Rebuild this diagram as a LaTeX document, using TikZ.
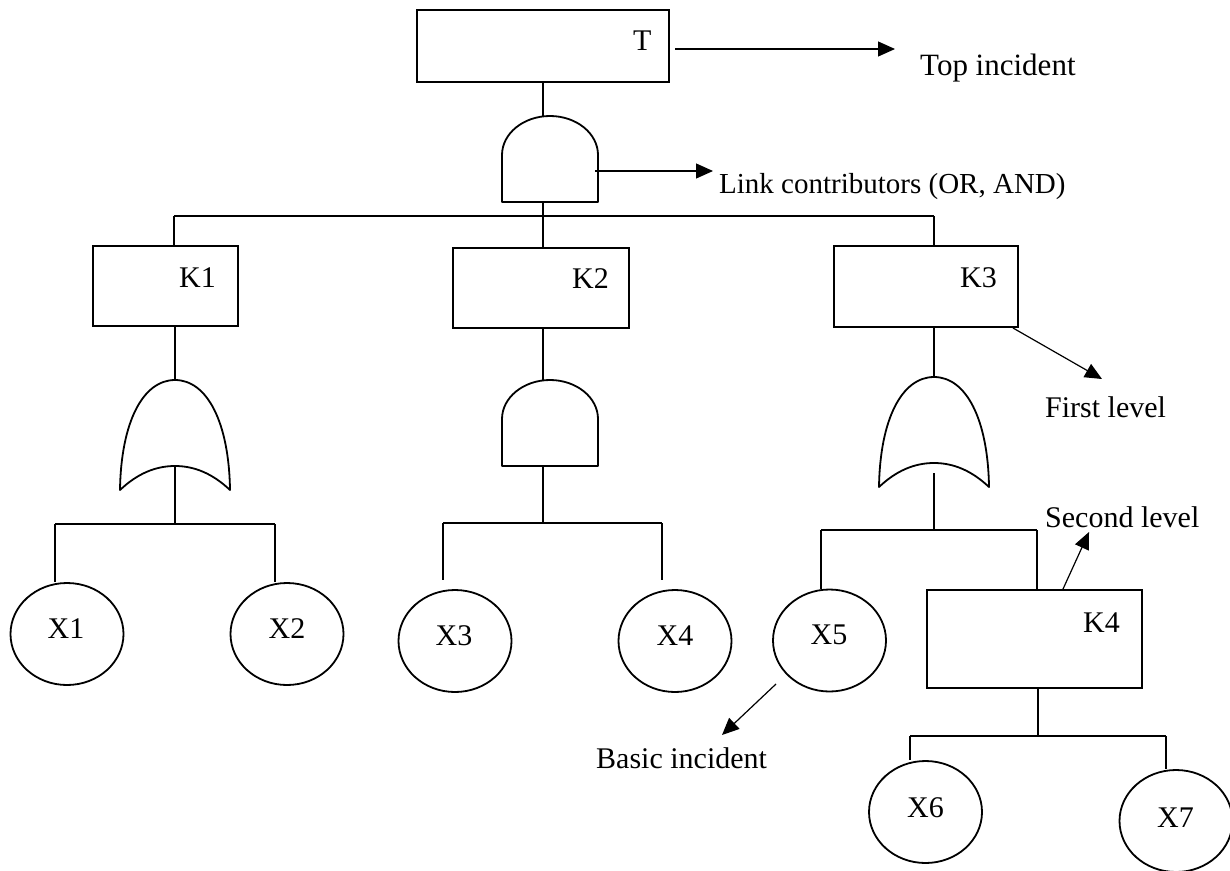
\documentclass[tikz,border=0pt]{standalone}
\usepackage{fontspec}
\setmainfont{Liberation Serif}
\usetikzlibrary{arrows.meta,shapes.geometric}

\tikzset{
  wire/.style={line width=1.8pt},
  box/.style={draw,line width=1.8pt,rectangle,inner sep=0pt},
  event/.style={draw,line width=1.8pt,ellipse,inner sep=0pt,
                minimum width=113pt,minimum height=102pt},
  lbl/.style={inner sep=0pt,anchor=base,font=\fontsize{30}{36}\selectfont},
  note/.style={inner sep=0pt,anchor=base west,font=\fontsize{30}{36}\selectfont},
  pointer/.style={line width=1.2pt,-{Triangle[length=17pt,width=15pt]}},
  gate/.style={line width=1.8pt,line join=round},
  % AND gate, apex at the pic origin
  andgate/.pic={\draw[gate] (-48,86) -- (-48,39)
      .. controls (-48,17.5) and (-26.5,0) .. (0,0)
      .. controls (26.5,0) and (48,17.5) .. (48,39) -- (48,86) -- cycle;},
  % OR gate, apex at the pic origin
  orgate/.pic={\draw[gate] (-55,110)
      .. controls (-54,42) and (-32,0) .. (0,0)
      .. controls (32,0) and (54,42) .. (55,110)
      .. controls (38,94) and (20,86) .. (0,86)
      .. controls (-20,86) and (-38,94) .. (-55,110) -- cycle;}
}

\begin{document}
\begin{tikzpicture}[x=1pt,y=-1pt]
\useasboundingbox (0,0) rectangle (1230,870);

% ---------- events ----------
\node[box,minimum width=252pt,minimum height=72pt] (T) at (543,46) {};
\node[lbl,anchor=base west] (Tl) at (633,50) {T};

\node[box,minimum width=145pt,minimum height=80pt] (K1) at (165.5,286) {};
\node[lbl,anchor=base west] (K1l) at (179,287) {K1};
\node[box,minimum width=176pt,minimum height=80pt] (K2) at (541,288) {};
\node[lbl,anchor=base west] (K2l) at (572,288) {K2};
\node[box,minimum width=184pt,minimum height=81pt] (K3) at (926,286.5) {};
\node[lbl,anchor=base west] (K3l) at (960,287) {K3};
\node[box,minimum width=215pt,minimum height=98pt] (K4) at (1034.5,639) {};
\node[lbl,anchor=base west] (K4l) at (1083,632) {K4};

% ---------- basic events ----------
\node[event] (X1) at (67,634) {};
\node[lbl] (X1l) at (66,638) {X1};
\node[event] (X2) at (287,634) {};
\node[lbl] (X2l) at (287,638) {X2};
\node[event] (X3) at (455,641) {};
\node[lbl] (X3l) at (454,645) {X3};
\node[event] (X4) at (675,641) {};
\node[lbl] (X4l) at (675,645) {X4};
\node[event] (X5) at (829.5,640.5) {};
\node[lbl] (X5l) at (829,644) {X5};
\node[event] (X6) at (925.5,812) {};
\node[lbl] (X6l) at (925.5,817) {X6};
\node[event] (X7) at (1176,821) {};
\node[lbl] (X7l) at (1175.5,827) {X7};

% ---------- gates ----------
\pic at (550,116) {andgate};
\coordinate (g0in) at (543,116);
\coordinate (g0out) at (543,202);
\pic at (175,380) {orgate};
\coordinate (g1in) at (175,380);
\coordinate (g1out) at (175,466);
\pic at (550,380) {andgate};
\coordinate (g2in) at (543,380);
\coordinate (g2out) at (543,466);
\pic at (934,377) {orgate};
\coordinate (g3in) at (934,377);
\coordinate (g3out) at (934,473);

% ---------- top level ----------
\draw[wire] (T.south -| g0in) -- (g0in);
\draw[wire] (g0out) -- (g0out |- K2.north);
\coordinate (busL) at (174,216);
\coordinate (busR) at (934,216);
\draw[wire] (busL) -- (busR);
\draw[wire] (busL) -- (busL |- K1.north);
\draw[wire] (busR) -- (busR |- K3.north);

% ---------- K1 branch ----------
\draw[wire] (K1.south -| g1in) -- (g1in);
\coordinate (b1c) at (175,524);
\coordinate (b1l) at (55,524);
\coordinate (b1r) at (275,524);
\draw[wire] (g1out) -- (b1c);
\draw[wire] (b1l) -- (b1r);
\draw[wire] (b1l) -- (b1l |- X1.north);
\draw[wire] (b1r) -- (b1r |- X2.north);

% ---------- K2 branch ----------
\draw[wire] (K2.south -| g2in) -- (g2in);
\coordinate (b2c) at (543,523);
\coordinate (b2l) at (443,523);
\coordinate (b2r) at (662,523);
\coordinate (b2le) at (443,580);
\coordinate (b2re) at (662,580);
\draw[wire] (g2out) -- (b2c);
\draw[wire] (b2l) -- (b2r);
\draw[wire] (b2l) -- (b2le);
\draw[wire] (b2r) -- (b2re);

% ---------- K3 branch ----------
\draw[wire] (K3.south -| g3in) -- (g3in);
\coordinate (b3c) at (934,530);
\coordinate (b3l) at (821,530);
\coordinate (b3r) at (1037,530);
\draw[wire] (g3out) -- (b3c);
\draw[wire] (b3l) -- (b3r);
\draw[wire] (b3l) -- (b3l |- X5.north);
\draw[wire] (b3r) -- (b3r |- K4.north);

% ---------- K4 branch ----------
\coordinate (b4c) at (1038,736);
\coordinate (b4l) at (910,736);
\coordinate (b4r) at (1166,736);
\draw[wire] (K4.south -| b4c) -- (b4c);
\draw[wire] (b4l) -- (b4r);
\draw[wire] (b4l) -- (b4l |- X6.north);
\draw[wire] (b4r) -- (b4r |- X7.north);

% ---------- annotations ----------
\coordinate (aTs) at (675,49);
\coordinate (aTe) at (895,49);
\draw[pointer] (aTs) -- (aTe);
\node[note,font=\fontsize{31}{37}\selectfont] (nT) at (920,75) {Top incident};

\coordinate (aGs) at (595,171);
\coordinate (aGe) at (713,171);
\draw[pointer] (aGs) -- (aGe);
\node[note,font=\fontsize{29}{35}\selectfont] (nG) at (719,193) {Link contributors (OR, AND)};

\coordinate (aFs) at (1013,328);
\coordinate (aFe) at (1102,379);
\draw[pointer] (aFs) -- (aFe);
\node[note] (nF) at (1045,417) {First level};

\coordinate (aSs) at (1063,589);
\coordinate (aSe) at (1089,532);
\draw[pointer] (aSs) -- (aSe);
\node[note] (nS) at (1045,527) {Second level};

\coordinate (aBs) at (776,684);
\coordinate (aBe) at (722,735);
\draw[pointer] (aBs) -- (aBe);
\node[note] (nB) at (596,768) {Basic incident};
\end{tikzpicture}
\end{document}
